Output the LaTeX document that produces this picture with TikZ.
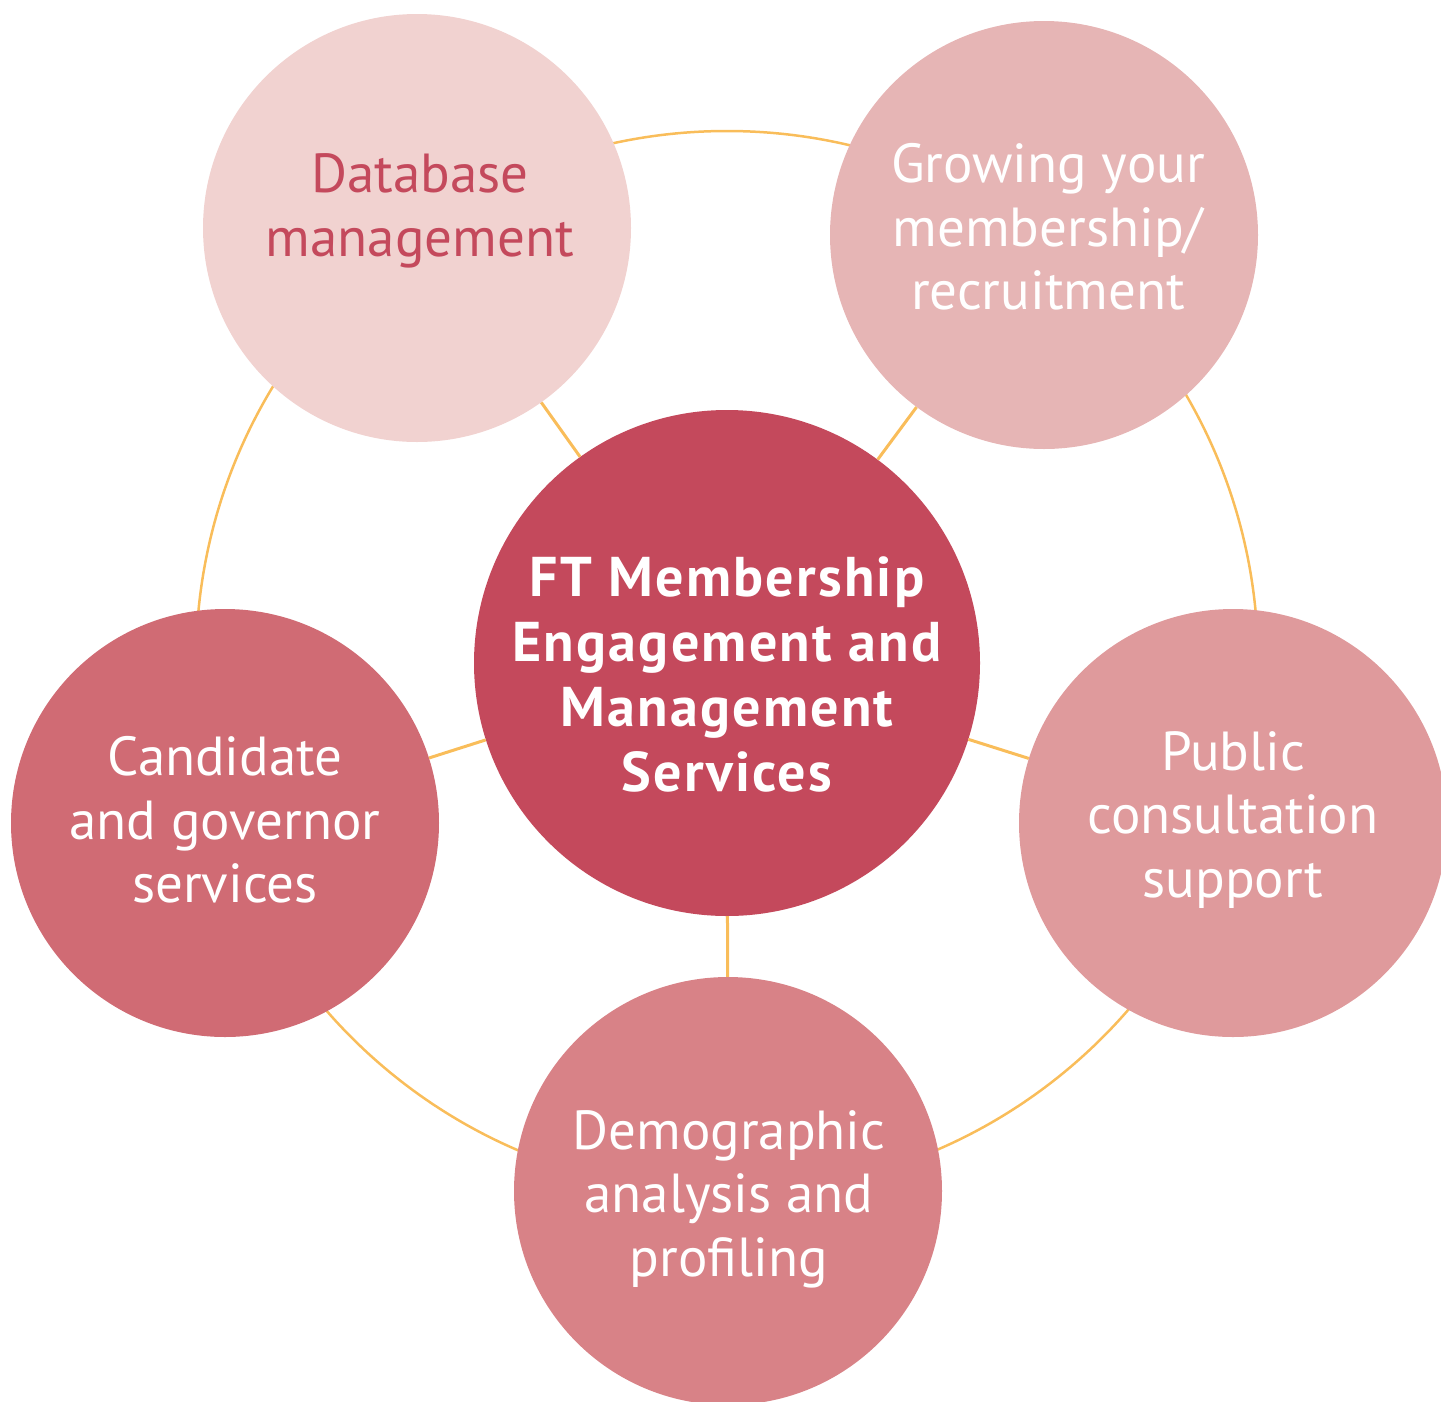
\documentclass[tikz,border=0pt]{standalone}
\usepackage{fontspec}
\setmainfont{PT Sans}
\newfontfamily\hubfont[LetterSpace=4]{PT Sans Bold}
\definecolor{ring}{HTML}{F9BD5A}
\definecolor{cmain}{HTML}{C4495C}
\definecolor{cdb}{HTML}{F1D2D0}
\definecolor{cgrow}{HTML}{E6B5B5}
\definecolor{cpub}{HTML}{DF9A9C}
\definecolor{cdemo}{HTML}{D88287}
\definecolor{ccand}{HTML}{D06B74}
\begin{document}
\begin{tikzpicture}[x=1pt,y=-1pt,
  outer/.style={circle,minimum size=428pt,inner sep=0pt,draw=none},
  hub/.style={circle,minimum size=506pt,inner sep=0pt,draw=none,fill=cmain},
  txt/.style={align=center,text=white,font=\fontsize{55}{63.5}\selectfont,inner sep=0pt},
  spoke/.style={draw=ring,line width=3pt}]
\useasboundingbox (0,0) rectangle (1441,1401);
\coordinate (o) at (727,662);
\draw[ring,line width=2.5pt] (o) circle[radius=531];
\node[hub] (c) at (727,663) {};
\node[outer,fill=cdb] (db) at (417,228) {};
\node[outer,fill=cgrow] (gr) at (1044,235) {};
\node[outer,fill=cpub] (pu) at (1233,823) {};
\node[outer,fill=cdemo] (de) at (728,1191) {};
\node[outer,fill=ccand] (ca) at (225,823) {};
\foreach \n in {db,gr,pu,de,ca} \draw[spoke] (c) -- (\n);
\node[txt,text=cmain] (dbt) at (420,211) {Database\\management};
\node[txt] (grt) at (1048,227) {Growing your\\membership/\\recruitment};
\node[txt] (put) at (1233,820) {Public\\consultation\\support};
\node[txt] (det) at (729,1199) {Demographic\\analysis and\\profiling};
\node[txt] (cat) at (225,820) {Candidate\\and governor\\services};
\node[txt,font=\hubfont\fontsize{56}{65}\selectfont] (ct) at (727,674) {FT Membership\\Engagement and\\Management\\Services};
\end{tikzpicture}
\end{document}
